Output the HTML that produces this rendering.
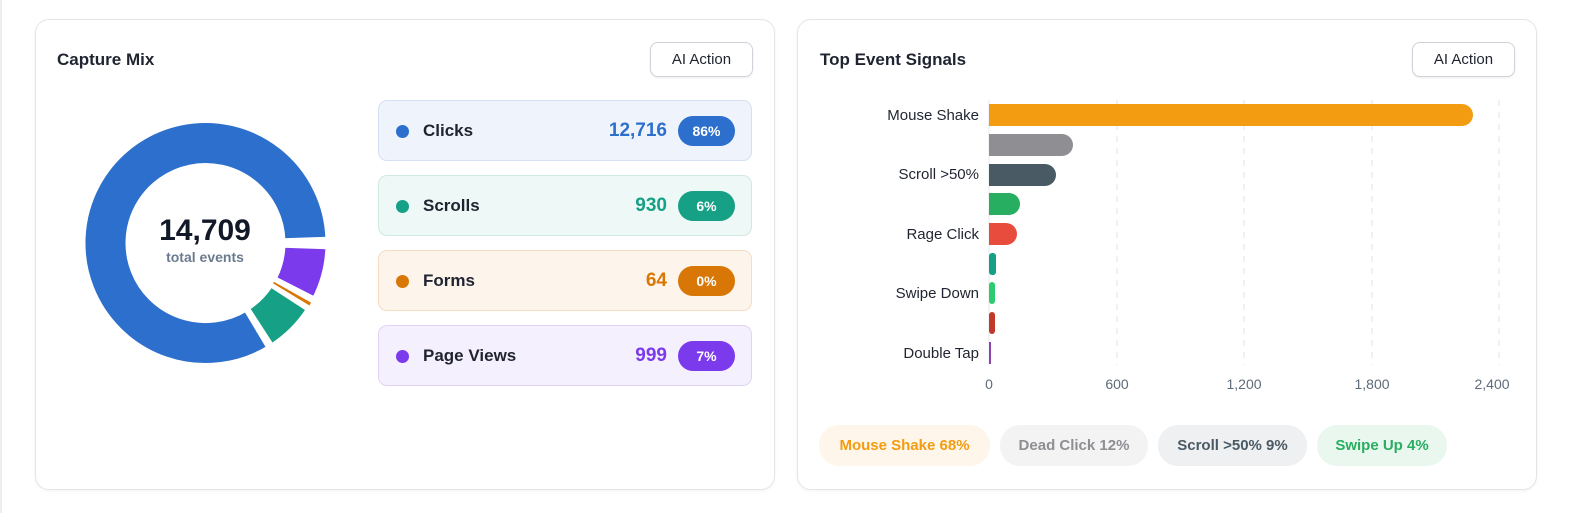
<!DOCTYPE html>
<html><head><meta charset="utf-8"><style>
*{box-sizing:border-box;margin:0;padding:0}
body{width:1569px;height:513px;background:#fff;font-family:"Liberation Sans",sans-serif;position:relative;overflow:hidden}
.edge{position:absolute;left:0;top:0;width:2px;height:513px;background:#eceef1}
.card{position:absolute;top:19px;height:471px;border:1px solid #e3e5e9;border-radius:14px;background:#fff;box-shadow:0 1px 3px rgba(0,0,0,.05)}
.title{position:absolute;top:50px;font-size:17px;font-weight:bold;color:#1f2430}
.btn{position:absolute;top:42px;width:103px;height:35px;border:1px solid #cfd3d9;border-radius:8px;font-size:15px;color:#1f2430;text-align:center;line-height:33px;box-shadow:0 1px 2px rgba(0,0,0,.08);background:#fff}
.row{position:absolute;left:378px;width:374px;height:61px;border-radius:9px;border:1px solid}
.row .dot{position:absolute;left:17px;top:24px;width:13px;height:13px;border-radius:50%}
.row .lab{position:absolute;left:44px;top:20px;font-size:17px;color:#1f2430;font-weight:bold}
.row .val{position:absolute;right:84px;top:19px;font-size:19px;font-weight:bold}
.row .pct{position:absolute;right:16px;top:15px;width:57px;height:30px;border-radius:15px;color:#fff;font-size:14px;font-weight:bold;text-align:center;line-height:30px}
.yl{position:absolute;right:590px;font-size:15px;color:#1f2430;text-align:right}
.xl{position:absolute;top:376px;font-size:14px;color:#5f6b7a;transform:translateX(-50%)}
.chip{position:absolute;top:425px;height:41px;border-radius:20px;font-size:15px;font-weight:bold;line-height:41px;text-align:center}
</style></head><body>
<div class="edge"></div>
<div class="card" style="left:35px;width:740px"></div>
<div class="card" style="left:797px;width:740px"></div>
<div class="title" style="left:57px">Capture Mix</div>
<div class="btn" style="left:650px">AI Action</div>
<div class="title" style="left:820px">Top Event Signals</div>
<div class="btn" style="left:1412px">AI Action</div>

<svg style="position:absolute;left:0;top:0" width="780" height="500">
<g transform="translate(205.5,243)" stroke="#fff" stroke-width="4">
<path d="M121.9,4.3 A122,122 0 0 1 108.7,55.4 L69.5,35.4 A78,78 0 0 0 77.95,2.7Z" fill="#7c3aed"/>
<path d="M106.6,59.3 A122,122 0 0 1 104.2,63.5 L66.6,40.6 A78,78 0 0 0 68.2,37.9Z" fill="#d97706" stroke-width="1.5"/>
<path d="M102.3,66.4 A122,122 0 0 1 66.4,102.3 L42.5,65.4 A78,78 0 0 0 65.4,42.5Z" fill="#16a085"/>
<path d="M62.8,104.6 A122,122 0 1 1 121.9,-4.3 L77.95,-2.7 A78,78 0 1 0 40.2,66.9Z" fill="#2d6fcc"/>
</g>
<text x="205" y="240" text-anchor="middle" font-size="30" font-weight="bold" fill="#111827" font-family="Liberation Sans">14,709</text>
<text x="205" y="262" text-anchor="middle" font-size="14" font-weight="bold" fill="#6b7b8f" font-family="Liberation Sans">total events</text>
</svg>

<div class="row" style="top:100px;background:#eff4fc;border-color:#d4e0f3"><div class="dot" style="background:#2d6fcc"></div><div class="lab">Clicks</div><div class="val" style="color:#2d6fcc">12,716</div><div class="pct" style="background:#2d6fcc">86%</div></div>
<div class="row" style="top:175px;background:#eef8f6;border-color:#cfe9e3"><div class="dot" style="background:#16a085"></div><div class="lab">Scrolls</div><div class="val" style="color:#16a085">930</div><div class="pct" style="background:#16a085">6%</div></div>
<div class="row" style="top:250px;background:#fdf4ec;border-color:#f5dcc3"><div class="dot" style="background:#d97706"></div><div class="lab">Forms</div><div class="val" style="color:#d97706">64</div><div class="pct" style="background:#d97706">0%</div></div>
<div class="row" style="top:325px;background:#f5f0fd;border-color:#e0d4f6"><div class="dot" style="background:#7c3aed"></div><div class="lab">Page Views</div><div class="val" style="color:#7c3aed">999</div><div class="pct" style="background:#7c3aed">7%</div></div>

<svg style="position:absolute;left:0;top:0" width="1569" height="513">
<g stroke="#dde1e6" stroke-dasharray="6,6" stroke-width="1">
<line x1="1117" y1="100" x2="1117" y2="365"/><line x1="1244" y1="100" x2="1244" y2="365"/><line x1="1372" y1="100" x2="1372" y2="365"/><line x1="1499" y1="100" x2="1499" y2="365"/>
</g>
<line x1="989" y1="100" x2="989" y2="365" stroke="#e5e7eb"/>
<path d="M989,104 H1462 a11,11 0 0 1 0,22 H989Z" fill="#f39c12"/>
<path d="M989,134 H1062 a11,11 0 0 1 0,22 H989Z" fill="#8e8e93"/>
<path d="M989,164 H1045 a11,11 0 0 1 0,22 H989Z" fill="#4a5a64"/>
<path d="M989,193 H1009 a11,11 0 0 1 0,22 H989Z" fill="#27ae60"/>
<path d="M989,223 H1006 a11,11 0 0 1 0,22 H989Z" fill="#e74c3c"/>
<rect x="989" y="253" width="7" height="22" rx="3" fill="#16a085"/>
<rect x="989" y="282" width="6" height="22" rx="3" fill="#2ecc71"/>
<rect x="989" y="312" width="6" height="22" rx="3" fill="#c0392b"/>
<rect x="989" y="342" width="2" height="22" fill="#8e44ad"/>
</svg>
<div class="yl" style="top:107px">Mouse Shake</div>
<div class="yl" style="top:166px">Scroll &gt;50%</div>
<div class="yl" style="top:226px">Rage Click</div>
<div class="yl" style="top:285px">Swipe Down</div>
<div class="yl" style="top:345px">Double Tap</div>
<div class="xl" style="left:989px">0</div>
<div class="xl" style="left:1117px">600</div>
<div class="xl" style="left:1244px">1,200</div>
<div class="xl" style="left:1372px">1,800</div>
<div class="xl" style="left:1492px">2,400</div>

<div class="chip" style="left:819px;width:171px;background:#fef6ea;color:#f39c12">Mouse Shake 68%</div>
<div class="chip" style="left:1000px;width:148px;background:#f3f3f4;color:#8e8e93">Dead Click 12%</div>
<div class="chip" style="left:1158px;width:149px;background:#eef0f1;color:#4a5a64">Scroll &gt;50% 9%</div>
<div class="chip" style="left:1317px;width:130px;background:#eaf7ef;color:#27ae60">Swipe Up 4%</div>
</body></html>
